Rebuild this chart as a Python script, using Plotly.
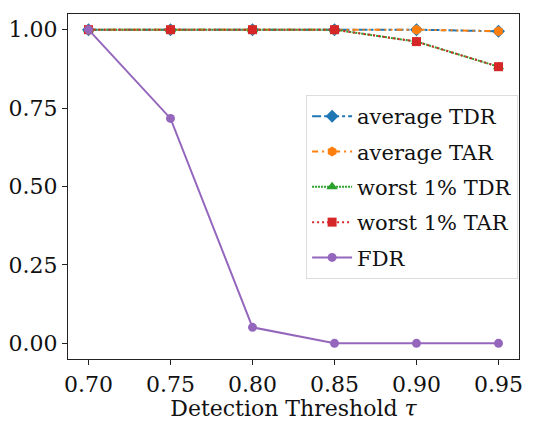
import plotly.graph_objects as go

thresholds = [0.70, 0.75, 0.80, 0.85, 0.90, 0.95]
avg_tdr = [1.0, 1.0, 1.0, 1.0, 1.0, 0.995]
avg_tar = [1.0, 1.0, 1.0, 1.0, 1.0, 0.995]
worst_tdr = [1.0, 1.0, 1.0, 1.0, 0.962, 0.882]
worst_tar = [1.0, 1.0, 1.0, 1.0, 0.962, 0.882]
fdr = [1.0, 0.717, 0.051, 0.0, 0.0, 0.0]
x_ticks = [0.70, 0.75, 0.80, 0.85, 0.90, 0.95]
y_ticks = [0.00, 0.25, 0.50, 0.75, 1.00]

FONT = "DejaVu Serif, Liberation Serif, serif"

series = [
    ("average TDR", avg_tdr, "#1f77b4", "dashdot", "diamond", 10),
    ("average TAR", avg_tar, "#ff7f0e", "6px,4px,2px,4px,2px,4px", "hexagon", 10),
    ("worst 1% TDR", worst_tdr, "#2ca02c", "2px,1px", "triangle-up", 10),
    ("worst 1% TAR", worst_tar, "#d62728", "2px,3px", "square", 9),
    ("FDR", fdr, "#9467bd", "solid", "circle", 9),
]

fig = go.Figure()
for i, (name, ys, color, dash, sym, size) in enumerate(series):
    fig.add_trace(go.Scatter(
        x=thresholds, y=ys, name=name, mode="lines+markers",
        line=dict(color=color, width=2, dash=dash),
        marker=dict(symbol=sym, size=size, color=color),
        legendgroup=f"g{i}",
    ))

axis_common = dict(
    showline=True, linecolor="#222", linewidth=1.2, mirror=True,
    ticks="outside", ticklen=5, tickcolor="#222", tickwidth=1,
    showgrid=False, zeroline=False, automargin=False,
    tickfont=dict(family=FONT, size=22, color="#111"),
)

fig.update_layout(
    width=537, height=422,
    margin=dict(l=68, r=18, t=14, b=63),
    paper_bgcolor="white", plot_bgcolor="white",
    xaxis=dict(range=[0.6875, 0.9625], tickvals=x_ticks,
               ticktext=[f"{v:.2f}" for v in x_ticks],
               title=dict(text="Detection Threshold <i>τ</i>",
                          font=dict(family=FONT, size=22, color="#111"),
                          standoff=0),
               **axis_common),
    yaxis=dict(range=[-0.05, 1.05], tickvals=y_ticks,
               ticktext=[f"{v:.2f}" for v in y_ticks],
               **axis_common),
    legend=dict(
        x=0.998, y=0.765, xanchor="right", yanchor="top",
        bgcolor="rgba(255,255,255,0.9)", bordercolor="#ddd", borderwidth=1,
        font=dict(family=FONT, size=21, color="#111"),
        traceorder="grouped", tracegroupgap=5, itemwidth=40,
    ),
    showlegend=True,
)

fig.write_html("out.html")
